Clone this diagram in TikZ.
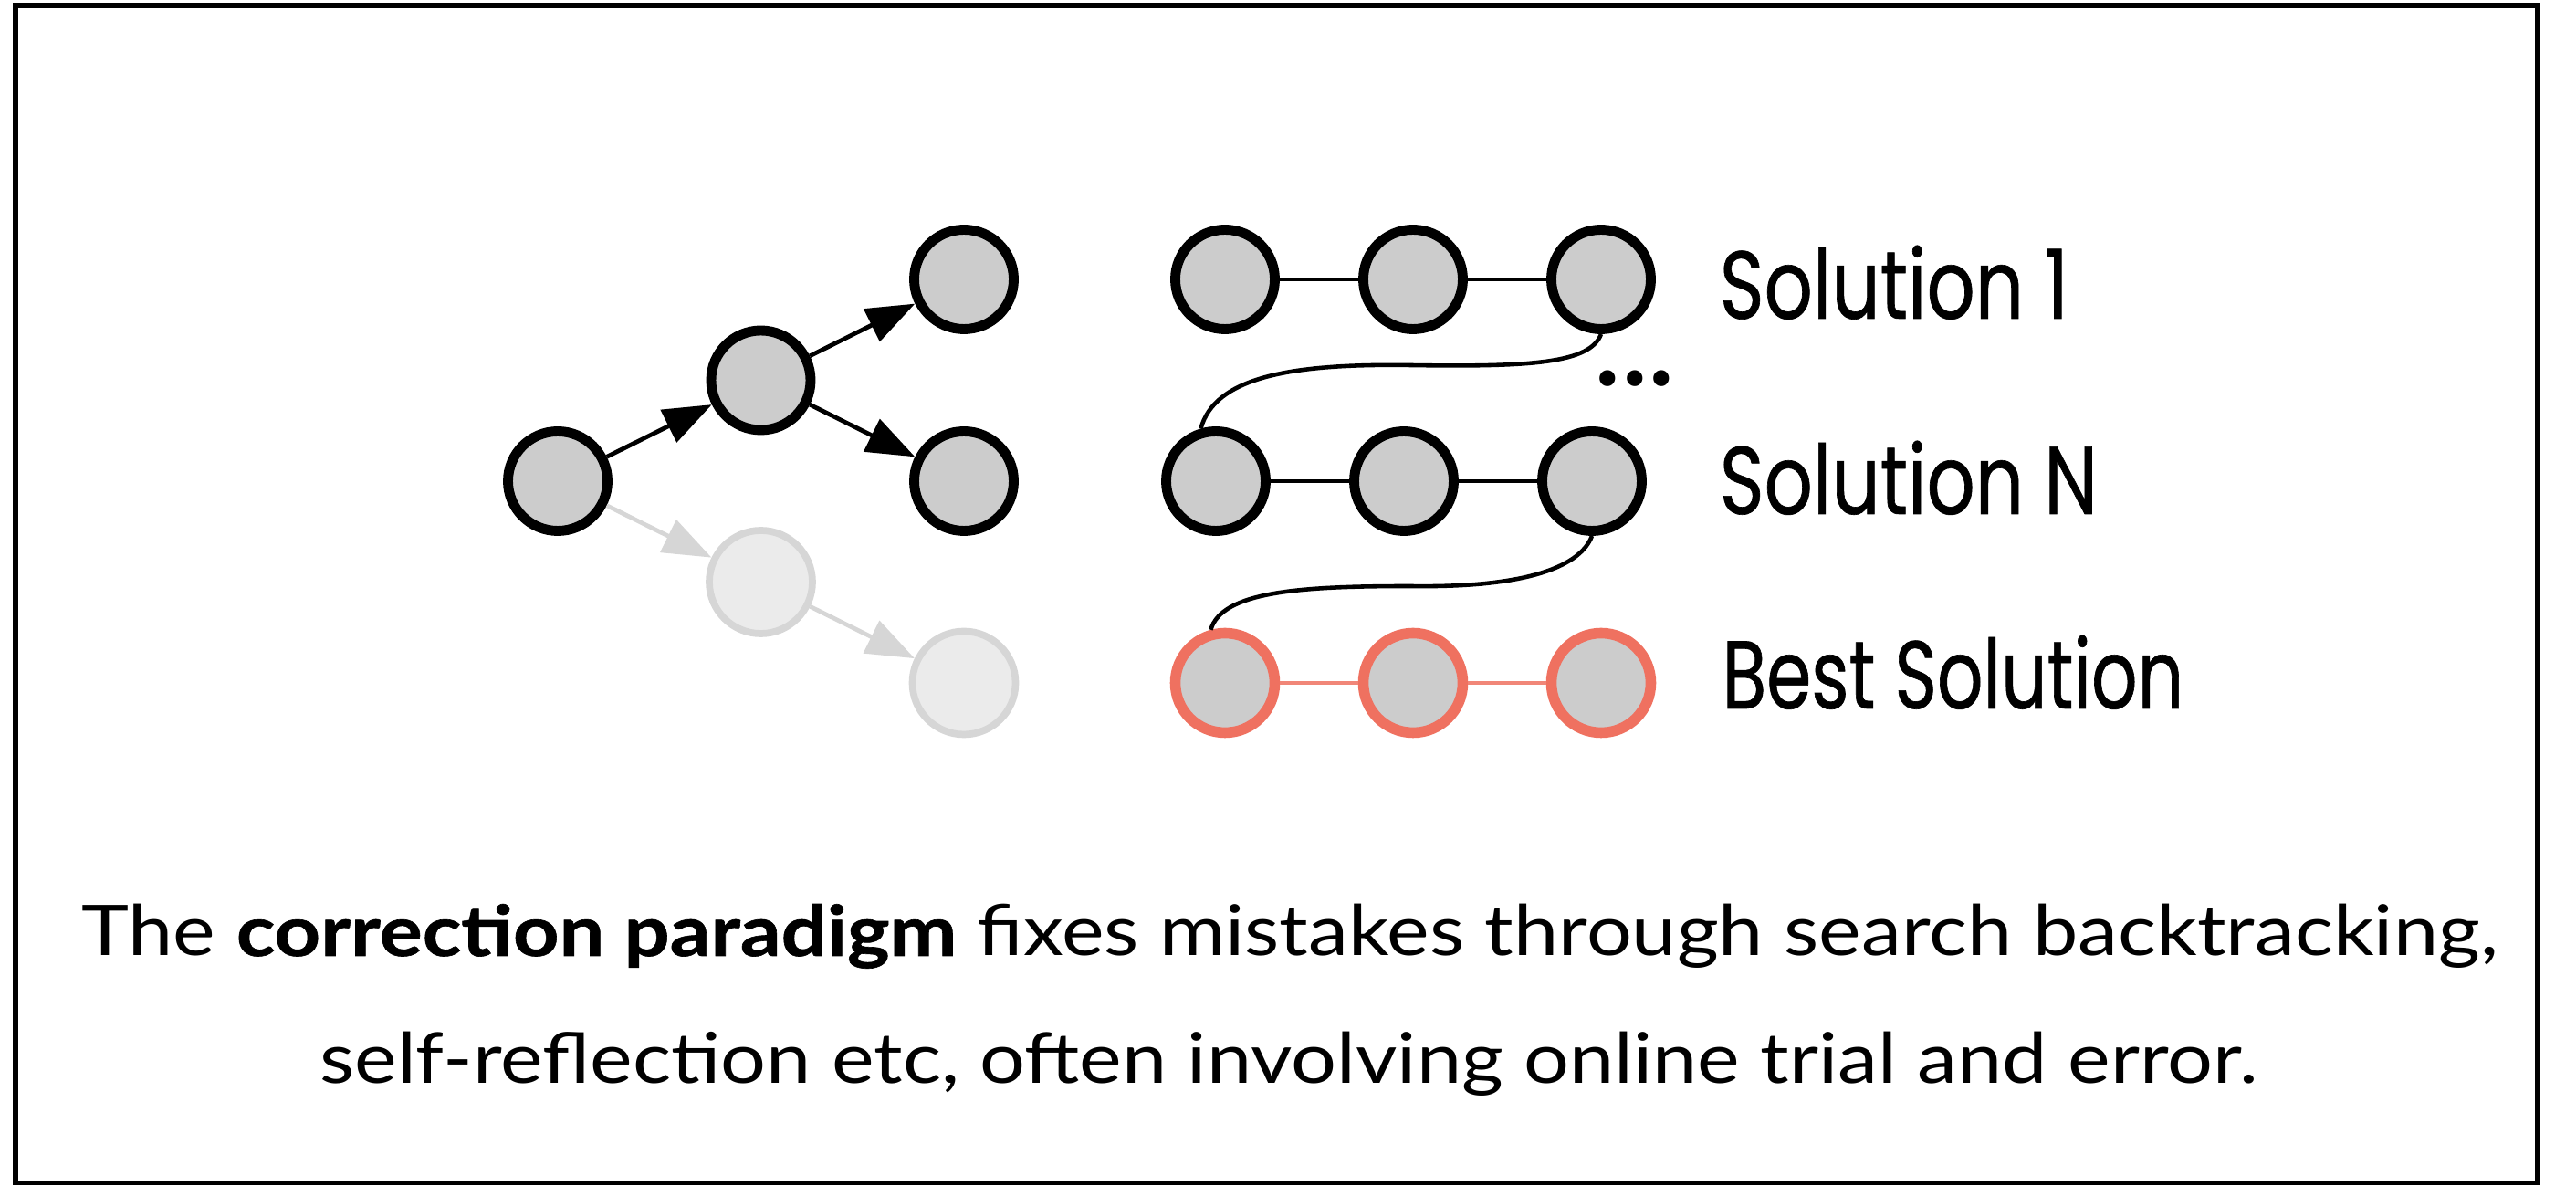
\documentclass[tikz,border=0pt]{standalone}
\usepackage{fontspec}
\setmainfont[FakeStretch=1.15, BoldFeatures={FakeBold=0.8}]{Lato}
\newfontfamily\labelfont[FakeStretch=0.79, FakeBold=0.6]{Poppins}
\newfontfamily\dotsfont{Poppins}
\usetikzlibrary{arrows.meta}
\usetikzlibrary{positioning}

\definecolor{nodegray}{HTML}{CCCCCC}
\definecolor{fadefill}{HTML}{EBEBEB}
\definecolor{fadedraw}{HTML}{D6D6D6}
\definecolor{bestred}{HTML}{EF7160}

\begin{document}
\begin{tikzpicture}[
        node distance=1.105cm and 2.225cm,
        on grid,
        treenode/.style={
            circle,
            draw,
            line width=3.1pt,
            fill=nodegray,
            minimum size=1.09cm,
            inner sep=0pt
        },
        faded/.style={
            treenode,
            draw=fadedraw,
            fill=fadefill,
            line width=2.2pt,
            minimum size=1.13cm
        },
        best/.style={
            treenode,
            draw=bestred,
            line width=3.3pt
        },
        solution/.style={
            anchor=base west,
            font=\labelfont\fontsize{30}{36}\selectfont,
            inner sep=0pt
        },
        caption/.style={
            anchor=base,
            font=\fontsize{21.8}{26}\selectfont,
            inner sep=0pt
        },
        arrow/.style={-{Triangle[length=0.53cm,width=0.39cm]}, line width=1.35pt},
        link/.style={line width=1.1pt},
        backtrack/.style={line width=1.3pt}
    ]
        \useasboundingbox (0,0) rectangle (28.22,12.99);
        \draw[line width=1.7pt] (0.17,0.035) rectangle (27.80,12.93);

        % search tree
        \node[treenode] (root) at (6.11,7.72) {};
        \node[treenode, above right=of root] (mid) {};
        \node[treenode, above right=of mid] (top) {};
        \node[treenode, below right=of mid] (low) {};
        \node[faded, below right=of root] (fmid) {};
        \node[faded, below right=of fmid] (fbot) {};

        \draw[arrow] (root) -- (mid);
        \draw[arrow] (mid) -- (top);
        \draw[arrow] (mid) -- (low);
        \draw[arrow, color=fadedraw] (root) -- (fmid);
        \draw[arrow, color=fadedraw] (fmid) -- (fbot);

        % solution chains
        \node[treenode] (s11) at (13.42,9.93) {};
        \node[treenode, right=2.06cm of s11] (s12) {};
        \node[treenode, right=2.06cm of s12] (s13) {};
        \node[treenode] (s21) at (13.32,7.72) {};
        \node[treenode, right=2.06cm of s21] (s22) {};
        \node[treenode, right=2.06cm of s22] (s23) {};
        \node[best] (b1) at (13.42,5.51) {};
        \node[best, right=2.06cm of b1] (b2) {};
        \node[best, right=2.06cm of b2] (b3) {};

        \draw[link] (s11) -- (s12) -- (s13);
        \draw[link] (s21) -- (s22) -- (s23);
        \draw[link, line width=1.3pt, bestred!85] (b1) -- (b2) -- (b3);

        \coordinate (gap1) at (15.45,8.99);
        \coordinate (gap2) at (15.45,6.57);
        \draw[backtrack] (s13.south) .. controls +(-0.12,-0.32) and +(1.32,-0.02) .. (gap1)
            .. controls +(-1.35,0.02) and +(0.15,0.55) .. (s21.106);
        \draw[backtrack] (s23.south) .. controls +(-0.12,-0.32) and +(1.32,-0.02) .. (gap2)
            .. controls +(-1.2,0) and +(0.12,0.42) .. (b1.105);

        \node[font=\dotsfont\fontsize{40}{48}\selectfont, inner sep=0pt] (more) at (17.91,8.84) {...};

        \node[solution] (sol1) at (18.83,9.50) {Solution 1};
        \node[solution] (solN) at (18.83,7.36) {Solution N};
        \node[solution] (solbest) at (18.86,5.23) {\scalebox{0.95}[1]{Best Solution}};

        \node[caption] (line1) at (14.13,2.52) {The \textbf{correction paradigm} fixes mistakes through search backtracking,};
        \node[caption] (line2) at (14.12,1.12) {self-reflection etc, often involving online trial and error.};
    \end{tikzpicture}
\end{document}
